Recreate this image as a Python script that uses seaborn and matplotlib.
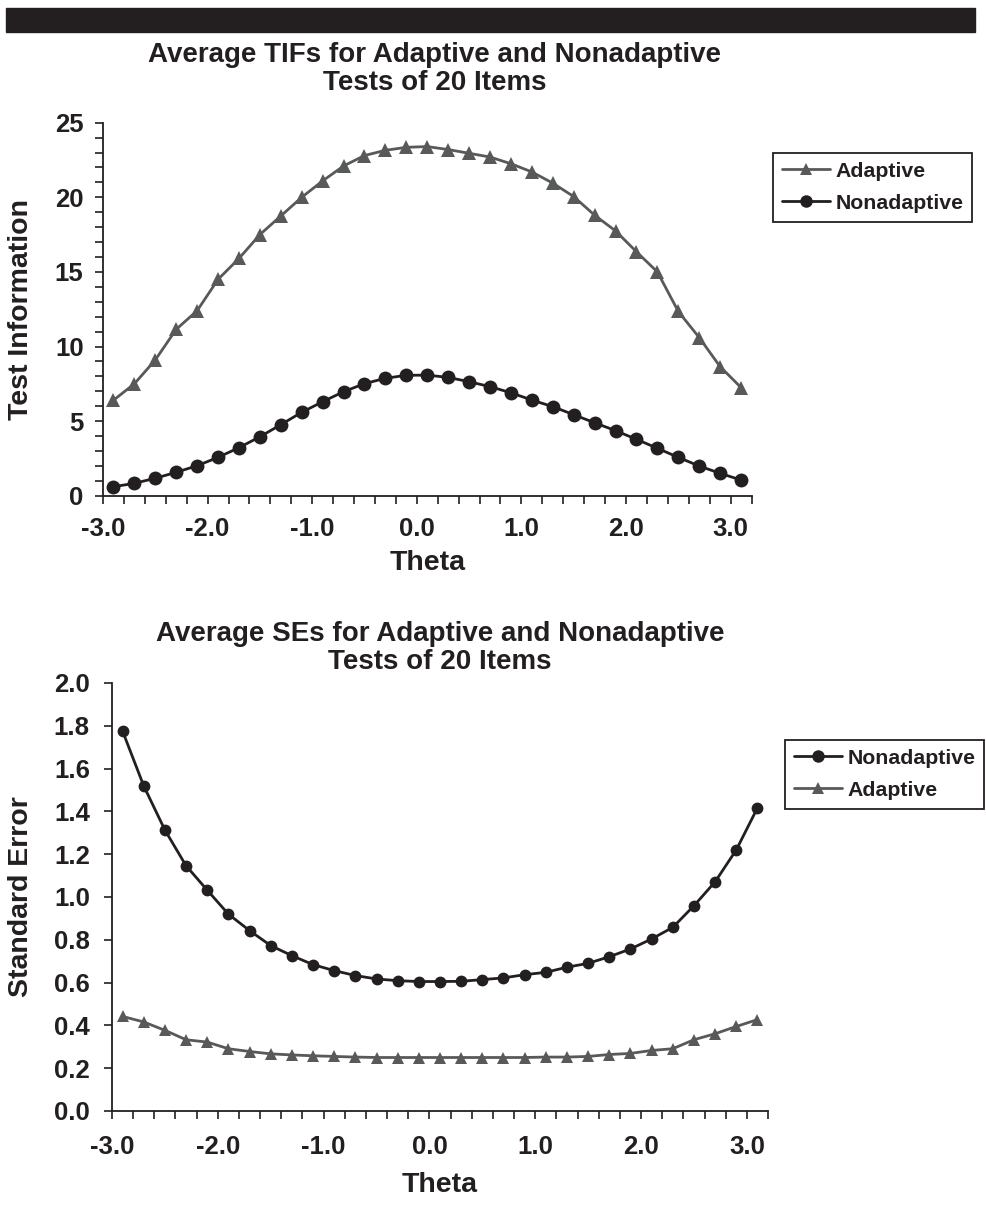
import matplotlib
matplotlib.use("Agg")
import matplotlib.pyplot as plt
from matplotlib.lines import Line2D
from matplotlib.patches import Rectangle
from matplotlib.ticker import MultipleLocator, FormatStrFormatter
import pandas as pd
import seaborn as sns

# Ability levels at which information / standard error were averaged
theta = [-2.9, -2.7, -2.5, -2.3, -2.1, -1.9, -1.7, -1.5, -1.3, -1.1, -0.9,
         -0.7, -0.5, -0.3, -0.1, 0.1, 0.3, 0.5, 0.7, 0.9, 1.1, 1.3, 1.5,
         1.7, 1.9, 2.1, 2.3, 2.5, 2.7, 2.9, 3.1]

# Average test information functions (20-item tests)
tif_adaptive = [6.4, 7.5, 9.1, 11.15, 12.4, 14.5, 15.9, 17.5, 18.75, 20.0,
                21.1, 22.1, 22.8, 23.15, 23.35, 23.4, 23.2, 22.95, 22.7,
                22.25, 21.7, 20.95, 20.05, 18.8, 17.75, 16.35, 15.0, 12.35,
                10.6, 8.65, 7.25]
tif_nonadaptive = [0.6, 0.83, 1.17, 1.57, 2.01, 2.57, 3.22, 3.95, 4.76, 5.59,
                   6.3, 6.97, 7.51, 7.87, 8.07, 8.08, 7.93, 7.64, 7.31, 6.9,
                   6.41, 5.97, 5.43, 4.89, 4.36, 3.78, 3.18, 2.57, 1.99, 1.5,
                   1.05]

# Average standard errors (20-item tests)
se_nonadaptive = [1.775, 1.519, 1.313, 1.146, 1.032, 0.920, 0.843, 0.773,
                  0.726, 0.684, 0.656, 0.633, 0.617, 0.609, 0.605, 0.605,
                  0.606, 0.614, 0.622, 0.637, 0.648, 0.672, 0.690, 0.721,
                  0.757, 0.804, 0.858, 0.959, 1.071, 1.220, 1.416]
se_adaptive = [0.442, 0.416, 0.377, 0.333, 0.322, 0.291, 0.278, 0.267, 0.262,
               0.258, 0.255, 0.252, 0.250, 0.250, 0.250, 0.250, 0.250, 0.250,
               0.250, 0.250, 0.252, 0.252, 0.255, 0.264, 0.269, 0.283, 0.291,
               0.333, 0.361, 0.395, 0.427]

x_tick_labels = ["-3.0", "-2.0", "-1.0", "0.0", "1.0", "2.0", "3.0"]

sns.set_style("ticks")
plt.rcParams["font.family"] = ["Liberation Sans", "DejaVu Sans"]
plt.rcParams["font.weight"] = "bold"

INK = "#231f20"
GREY = "#58595b"
colors = {"Adaptive": GREY, "Nonadaptive": INK}
markers = {"Adaptive": "^", "Nonadaptive": "o"}

TICK_FS = 18.5
LABEL_FS = 20.5
TITLE_FS = 20
LEGEND_FS = 15.3

W, H = 987, 1205
fig = plt.figure(figsize=(W / 100, H / 100), dpi=100)


def px_axes(left, top, right, bottom):
    return fig.add_axes([left / W, 1 - bottom / H, (right - left) / W,
                         (bottom - top) / H])


def long_frame(a, b):
    return pd.DataFrame({
        "theta": theta * 2,
        "value": list(a) + list(b),
        "test": ["Adaptive"] * len(a) + ["Nonadaptive"] * len(b),
    })


def draw(ax, df, order, ms):
    sns.lineplot(data=df, x="theta", y="value", hue="test", style="test",
                 hue_order=order, style_order=order, palette=colors,
                 markers=markers, dashes=False, linewidth=2.0,
                 markersize=ms, markeredgewidth=0, sort=False,
                 errorbar=None, legend=False, ax=ax)


def style_axes(ax, box, ylab_pad, xlab_pad, ylabel, ylabel_right_px,
               xlabel_top_px):
    left, top, right, bottom = box
    for s in ("top", "right"):
        ax.spines[s].set_visible(False)
    for s in ("left", "bottom"):
        ax.spines[s].set_color(INK)
        ax.spines[s].set_linewidth(1.3)
    ax.set_xlim(-3.0, 3.2)
    ax.set_xticks([-3, -2, -1, 0, 1, 2, 3])
    ax.set_xticklabels(x_tick_labels)
    ax.xaxis.set_minor_locator(MultipleLocator(0.2))
    ax.tick_params(axis="both", which="both", direction="out", length=6,
                   width=1.2, color=INK, labelsize=TICK_FS, labelcolor=INK)
    ax.tick_params(axis="x", which="major", pad=xlab_pad)
    ax.tick_params(axis="y", which="major", pad=ylab_pad)
    for lab in ax.get_xticklabels() + ax.get_yticklabels():
        lab.set_fontweight("bold")
    ax.set_xlabel("Theta", fontsize=LABEL_FS, fontweight="bold", color=INK)
    ax.xaxis.set_label_coords(0.5, -(xlabel_top_px - bottom) / (bottom - top))
    ax.set_ylabel(ylabel, fontsize=LABEL_FS, fontweight="bold", color=INK)
    ax.yaxis.set_label_coords((ylabel_right_px - left) / (right - left), 0.5)


def add_legend(order, x0, y0):
    handles = [Line2D([], [], color=colors[k], marker=markers[k],
                      markersize=9, markeredgewidth=0, linewidth=2.0)
               for k in order]
    leg = fig.legend(handles, order, loc="upper left",
                     bbox_to_anchor=(x0 / W, 1 - y0 / H),
                     bbox_transform=fig.transFigure, frameon=True,
                     fancybox=False, shadow=False, borderaxespad=0,
                     prop={"size": LEGEND_FS, "weight": "bold"},
                     handlelength=2.27, handletextpad=0.25, borderpad=0.42,
                     labelspacing=0.6)
    fr = leg.get_frame()
    fr.set_edgecolor(INK)
    fr.set_linewidth(1.3)
    fr.set_alpha(1)
    for t in leg.get_texts():
        t.set_color(INK)


# Dark header band
fig.patches.append(Rectangle((6 / W, 1 - 32 / H), 969 / W, 24 / H,
                             transform=fig.transFigure, color=INK, zorder=0))

# ---- Test information panel ----
box1 = (103, 122.7, 751.5, 495.7)
ax1 = px_axes(*box1)
order1 = ["Adaptive", "Nonadaptive"]
draw(ax1, long_frame(tif_adaptive, tif_nonadaptive), order1, 10)
ax1.set_ylim(0, 25)
ax1.yaxis.set_major_locator(MultipleLocator(5))
ax1.yaxis.set_minor_locator(MultipleLocator(1))
style_axes(ax1, box1, 8, 9, "Test Information", 34, 550)
fig.text(435 / W, 1 - 69 / H,
         "Average TIFs for Adaptive and Nonadaptive\nTests of 20 Items",
         ha="center", va="center", fontsize=TITLE_FS, fontweight="bold",
         color=INK, linespacing=1.06)
add_legend(order1, 773, 153)

# ---- Standard error panel ----
box2 = (112, 683, 768, 1111)
ax2 = px_axes(*box2)
order2 = ["Nonadaptive", "Adaptive"]
draw(ax2, long_frame(se_adaptive, se_nonadaptive), order2, 8.5)
ax2.set_ylim(0, 2.0)
ax2.yaxis.set_major_locator(MultipleLocator(0.2))
ax2.yaxis.set_minor_locator(MultipleLocator(0.2))
ax2.yaxis.set_major_formatter(FormatStrFormatter("%.1f"))
style_axes(ax2, box2, 10, 11, "Standard Error", 34, 1172)
fig.text(440 / W, 1 - 648 / H,
         "Average SEs for Adaptive and Nonadaptive\nTests of 20 Items",
         ha="center", va="center", fontsize=TITLE_FS, fontweight="bold",
         color=INK, linespacing=1.06)
add_legend(order2, 785, 740)

fig.savefig("out.png", dpi=100, facecolor="white")
